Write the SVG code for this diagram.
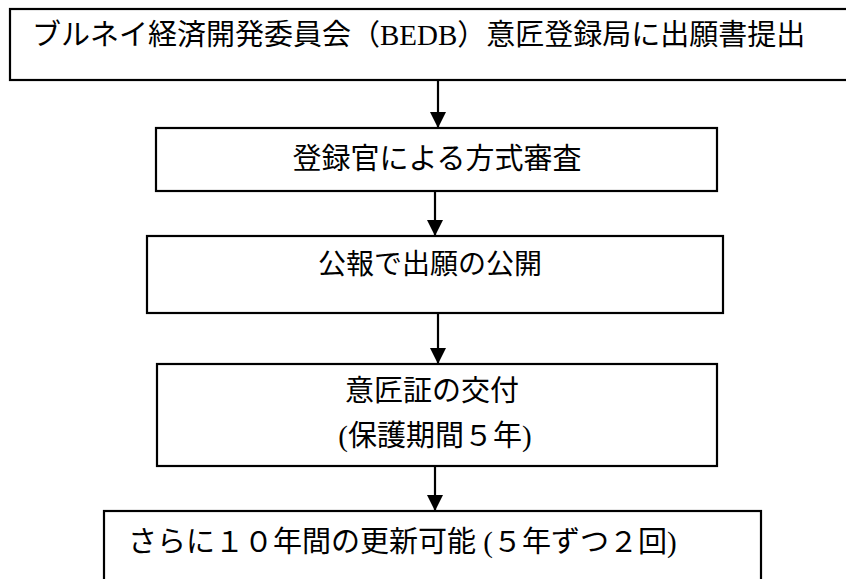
<svg xmlns="http://www.w3.org/2000/svg" width="846" height="579" viewBox="0 0 846 579">
<defs>
<style>
.box{fill:#fff;stroke:#000;stroke-width:2.2}
.t{font-family:"Liberation Serif","Noto Sans CJK JP",serif;font-size:29px;fill:#000}
.s{font-size:28px}
.m{text-anchor:middle}
.c{stroke:#000;stroke-width:2.2;fill:none}
</style>
<marker id="ah" markerWidth="16" markerHeight="16" viewBox="0 0 16 16" refX="16" refY="8" orient="auto" markerUnits="userSpaceOnUse">
<path d="M0,0 L16,8 L0,16 Z" fill="#000"/>
</marker>
</defs>
<rect width="846" height="579" fill="#fff"/>
<g id="connectors">
<line class="c" x1="438" y1="80" x2="438" y2="128" marker-end="url(#ah)"/>
<line class="c" x1="435" y1="191" x2="435" y2="236" marker-end="url(#ah)"/>
<line class="c" x1="438" y1="313" x2="438" y2="364" marker-end="url(#ah)"/>
<line class="c" x1="435" y1="462" x2="435" y2="511" marker-end="url(#ah)"/>
</g>
<g id="n1">
<rect class="box" x="10" y="9" width="850" height="71"/>
<text class="t" x="32" y="45">ブルネイ経済開発委員会（BEDB）意匠登録局に出願書提出</text>
</g>
<g id="n2">
<rect class="box" x="156" y="128" width="561" height="63"/>
<text class="t m" x="437" y="169">登録官による方式審査</text>
</g>
<g id="n3">
<rect class="box" x="147" y="236" width="576" height="77"/>
<text class="t s m" x="430" y="274">公報で出願の公開</text>
</g>
<g id="n4">
<rect class="box" x="157" y="364" width="560" height="102"/>
<text class="t" x="345" y="401">意匠証の交付</text>
<text class="t m" x="435" y="446">(保護期間５年)</text>
</g>
<g id="n5">
<rect class="box" x="104" y="511" width="657" height="90"/>
<text class="t" x="128" y="552">さらに１０年間の更新可能 (５年ずつ２回)</text>
</g>
</svg>
